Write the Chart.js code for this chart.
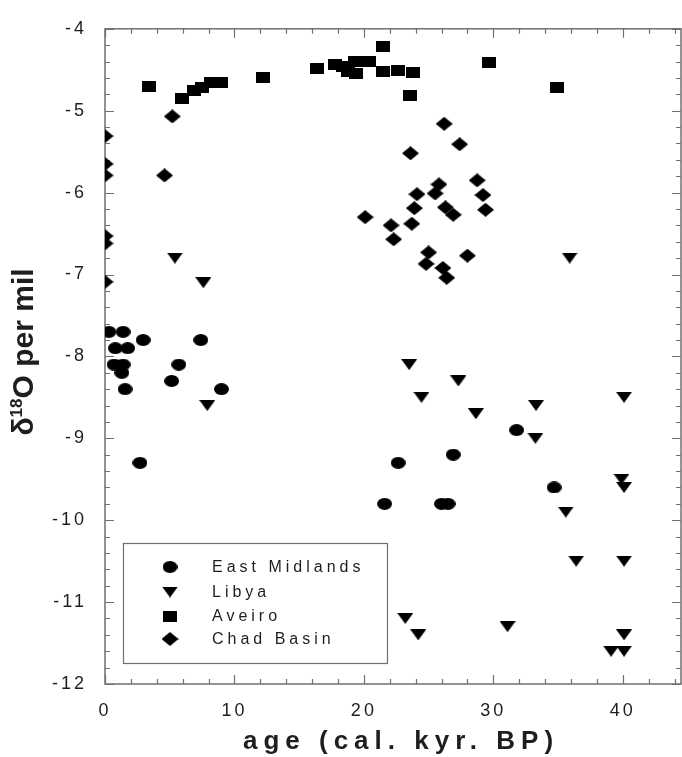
<!DOCTYPE html>
<html>
<head>
<meta charset="utf-8">
<script src="https://cdn.jsdelivr.net/npm/chart.js@4.4.1/dist/chart.umd.min.js"></script>
<style>
  html, body { margin: 0; padding: 0; background: #fff; overflow: hidden; }
  #wrap { width: 682px; height: 757px; }
</style>
</head>
<body>
<div id="wrap"><canvas id="chart" width="682" height="757"></canvas></div>
<script>
// age in cal. kyr BP, d18O in per mil
const eastMidlandsAge = [0.3, 1.4, 2.95, 7.4, 0.8, 1.75, 0.7, 1.4, 1.3, 5.7, 5.15, 1.55, 9.0, 2.7, 31.8, 26.9, 22.65, 21.6, 26.0, 26.5, 34.7];
const eastMidlandsD18O = [-7.7, -7.7, -7.8, -7.8, -7.9, -7.9, -8.1, -8.1, -8.2, -8.1, -8.3, -8.4, -8.4, -9.3, -8.9, -9.2, -9.3, -9.8, -9.8, -9.8, -9.6];

const libyaAge = [5.4, 7.6, 7.9, 35.9, 23.5, 27.3, 24.45, 28.65, 33.3, 40.1, 33.25, 39.9, 40.1, 35.6, 36.4, 40.1, 23.2, 24.2, 31.1, 40.1, 39.1, 40.1];
const libyaD18O = [-6.8, -7.1, -8.6, -6.8, -8.1, -8.3, -8.5, -8.7, -8.6, -8.5, -9.0, -9.5, -9.6, -9.9, -10.5, -10.5, -11.2, -11.4, -11.3, -11.4, -11.6, -11.6];

const aveiroAge = [3.4, 5.95, 6.85, 7.5, 8.2, 9.0, 12.2, 16.4, 17.8, 18.4, 18.8, 19.3, 19.4, 20.4, 21.5, 21.5, 22.6, 23.8, 23.6, 29.65, 34.9];
const aveiroD18O = [-4.7, -4.85, -4.75, -4.72, -4.66, -4.66, -4.59, -4.49, -4.43, -4.46, -4.52, -4.40, -4.54, -4.40, -4.22, -4.52, -4.51, -4.53, -4.82, -4.41, -4.72];

const chadAge = [5.2, 0, 0, 0, 4.6, 0, 0, 0, 20.1, 22.1, 22.3, 26.2, 27.4, 23.6, 28.75, 25.8, 25.5, 24.1, 29.2, 23.9, 26.3, 26.9, 29.4, 23.7, 25.0, 28.0, 24.8, 26.1, 26.4];
const chadD18O = [-5.07, -5.31, -5.65, -5.79, -5.79, -6.53, -6.62, -7.09, -6.30, -6.40, -6.57, -5.16, -5.41, -5.52, -5.85, -5.90, -6.01, -6.02, -6.03, -6.19, -6.18, -6.27, -6.21, -6.38, -6.73, -6.77, -6.87, -6.92, -7.04];

const seriesNames = ['East Midlands', 'Libya', 'Aveiro', 'Chad Basin'];
const xTickValues = [0, 10, 20, 30, 40];
const yTickValues = [-4, -5, -6, -7, -8, -9, -10, -11, -12];

const AXIS_COLOR = '#6f6f6f';
const TEXT_COLOR = '#1e1e1e';

// small canvases used as point styles (the markers in the figure are a bit wider than tall)
function makeMarker(kind, w, h) {
    const c = document.createElement('canvas');
    c.width = w;
    c.height = h;
    const g = c.getContext('2d');
    g.fillStyle = '#000';
    g.beginPath();
    if (kind === 'ellipse') {
        g.ellipse(w / 2, h / 2, w / 2, h / 2, 0, 0, Math.PI * 2);
    } else if (kind === 'triangle') {
        g.moveTo(0, 0);
        g.lineTo(w, 0);
        g.lineTo(w / 2, h);
    } else if (kind === 'square') {
        g.rect(0, 0, w, h);
    } else {
        g.moveTo(w / 2, 0);
        g.lineTo(w, h / 2);
        g.lineTo(w / 2, h);
        g.lineTo(0, h / 2);
    }
    g.closePath();
    g.fill();
    return c;
}

const markers = [
    makeMarker('ellipse', 15, 12),
    makeMarker('triangle', 16, 11),
    makeMarker('square', 14, 11),
    makeMarker('diamond', 17, 14)
];

const toPoints = (xs, ys) => xs.map((x, i) => ({ x: x, y: ys[i] }));

const datasets = [
    toPoints(eastMidlandsAge, eastMidlandsD18O),
    toPoints(libyaAge, libyaD18O),
    toPoints(aveiroAge, aveiroD18O),
    toPoints(chadAge, chadD18O)
].map((pts, i) => ({
    label: seriesNames[i],
    data: pts,
    pointStyle: markers[i],
    pointRadius: 8,
    showLine: false
}));

// frame with inward ticks on all four sides
const framePlugin = {
    id: 'frame',
    beforeDatasetsDraw(chart) {
        const { ctx, chartArea: a, scales } = chart;
        ctx.save();
        ctx.strokeStyle = AXIS_COLOR;
        ctx.lineWidth = 1.5;
        ctx.strokeRect(a.left, a.top, a.right - a.left, a.bottom - a.top);
        ctx.lineWidth = 1.2;
        ctx.beginPath();
        for (let i = 0; i <= 22; i++) {
            const v = i * 2;
            const len = v % 10 === 0 ? 9 : 5;
            const px = Math.round(scales.x.getPixelForValue(v)) + 0.5;
            ctx.moveTo(px, a.bottom); ctx.lineTo(px, a.bottom - len);
            ctx.moveTo(px, a.top); ctx.lineTo(px, a.top + len);
        }
        for (let i = 0; i <= 40; i++) {
            const v = -4 - i * 0.2;
            const len = i % 5 === 0 ? 9 : 5;
            const py = Math.round(scales.y.getPixelForValue(v)) + 0.5;
            ctx.moveTo(a.left, py); ctx.lineTo(a.left + len, py);
            ctx.moveTo(a.right, py); ctx.lineTo(a.right - len, py);
        }
        ctx.stroke();
        ctx.restore();
    }
};

// spaced-out lettering like the original
const spacingPlugin = {
    id: 'spacing',
    beforeDraw(chart) {
        chart.ctx.letterSpacing = '3px';
    }
};

const legendPlugin = {
    id: 'boxLegend',
    afterDatasetsDraw(chart) {
        const ctx = chart.ctx;
        const box = { left: 123, top: 543, width: 264, height: 120 };
        ctx.save();
        ctx.fillStyle = '#fff';
        ctx.fillRect(box.left, box.top, box.width, box.height);
        ctx.strokeStyle = AXIS_COLOR;
        ctx.lineWidth = 1.2;
        ctx.strokeRect(box.left + 0.5, box.top + 0.5, box.width, box.height);
        ctx.font = '16px "Liberation Sans", Arial, sans-serif';
        ctx.letterSpacing = '4px';
        ctx.fillStyle = TEXT_COLOR;
        ctx.textBaseline = 'middle';
        ctx.textAlign = 'left';
        const rows = [567, 592, 616, 639];
        chart.data.datasets.forEach((ds, i) => {
            const m = ds.pointStyle;
            ctx.drawImage(m, 170 - m.width / 2, rows[i] - m.height / 2);
            ctx.fillText(ds.label, 212, rows[i] + 1);
        });
        ctx.restore();
    }
};

const titlePlugin = {
    id: 'titles',
    afterDraw(chart) {
        const ctx = chart.ctx;
        ctx.save();
        ctx.fillStyle = TEXT_COLOR;
        ctx.textBaseline = 'middle';
        ctx.textAlign = 'center';
        ctx.font = 'bold 26px "Liberation Sans", Arial, sans-serif';
        ctx.letterSpacing = '6px';
        ctx.fillText('age (cal. kyr. BP)', 401, 742);

        // y title: δ + superscript 18 + O per mil
        ctx.letterSpacing = '0px';
        ctx.translate(25, 352);
        ctx.rotate(-Math.PI / 2);
        ctx.textAlign = 'left';
        const big = 'bold 30px "Liberation Sans", Arial, sans-serif';
        const small = 'bold 17px "Liberation Sans", Arial, sans-serif';
        ctx.font = big;
        const w1 = ctx.measureText('δ').width;
        const w3 = ctx.measureText('O per mil').width;
        ctx.font = small;
        const w2 = ctx.measureText('18').width;
        let x = -(w1 + w2 + w3) / 2;
        ctx.font = big;
        ctx.fillText('δ', x, 0);
        x += w1;
        ctx.font = small;
        ctx.fillText('18', x, -8);
        x += w2;
        ctx.font = big;
        ctx.fillText('O per mil', x, 0);
        ctx.restore();
    }
};

const tickFont = { family: '"Liberation Sans", Arial, sans-serif', size: 18 };

new Chart(document.getElementById('chart'), {
    type: 'scatter',
    data: { datasets: datasets },
    options: {
        responsive: false,
        animation: false,
        layout: { autoPadding: false, padding: { top: 15, right: 1, left: 0, bottom: 0 } },
        plugins: {
            legend: { display: false },
            tooltip: { enabled: false }
        },
        scales: {
            x: {
                type: 'linear',
                min: 0,
                max: 44.5,
                grid: { display: false, drawTicks: false },
                border: { display: false },
                ticks: { color: TEXT_COLOR, font: tickFont, padding: 16, maxRotation: 0 },
                afterBuildTicks: s => { s.ticks = xTickValues.map(v => ({ value: v })); },
                afterFit: s => { s.height = 73; }
            },
            y: {
                type: 'linear',
                min: -12,
                max: -4,
                grid: { display: false, drawTicks: false },
                border: { display: false },
                ticks: { color: TEXT_COLOR, font: tickFont, padding: 18 },
                afterBuildTicks: s => { s.ticks = yTickValues.map(v => ({ value: v })); },
                afterFit: s => { s.width = 105; }
            }
        }
    },
    plugins: [spacingPlugin, framePlugin, legendPlugin, titlePlugin]
});
</script>
</body>
</html>
